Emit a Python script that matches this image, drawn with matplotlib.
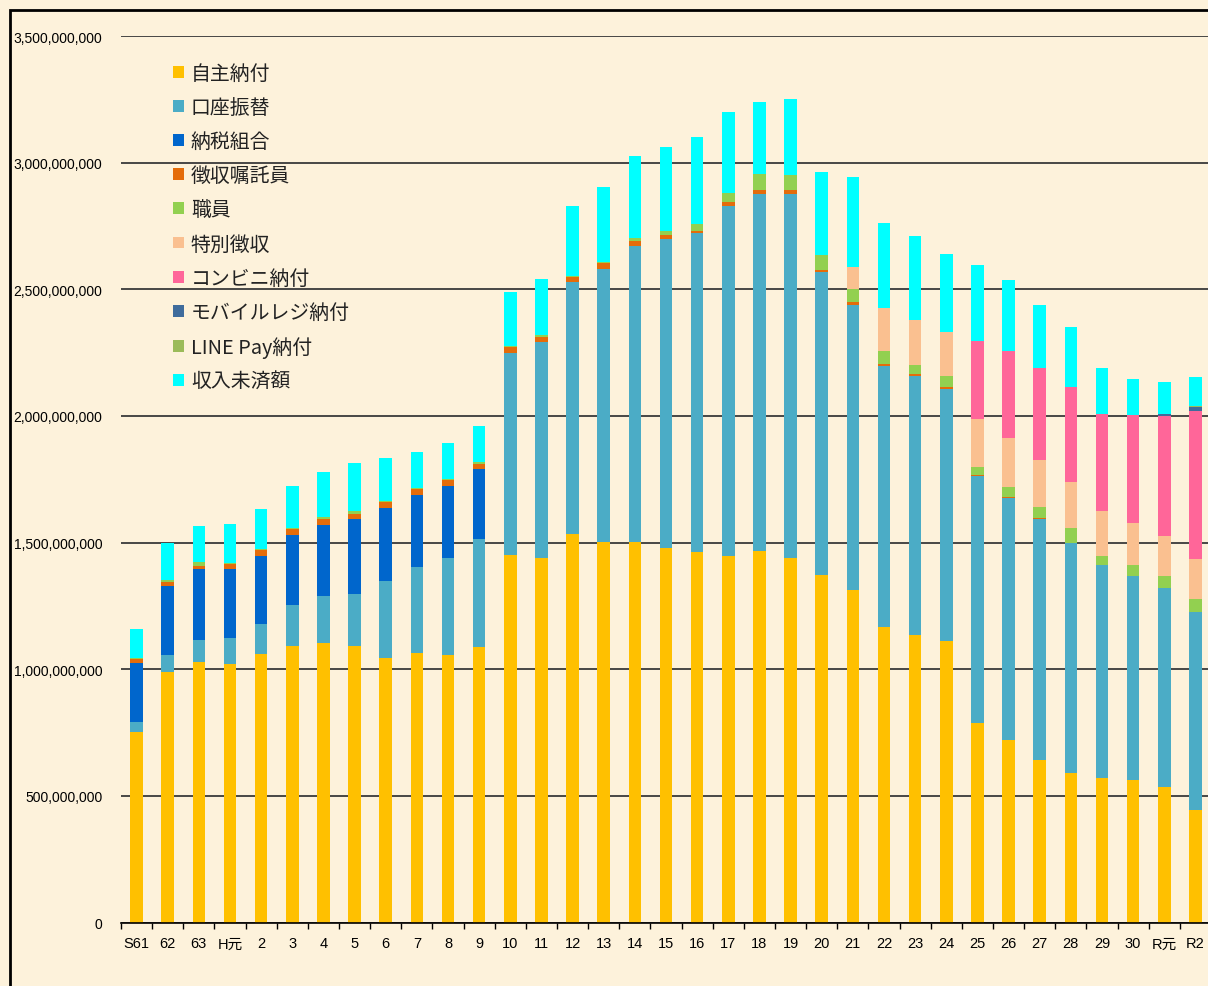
import numpy as np
import matplotlib
matplotlib.use("Agg")
import matplotlib.pyplot as plt
from matplotlib.patches import Patch, Rectangle
from matplotlib.ticker import FuncFormatter, FixedLocator

plt.rcParams['font.family'] = ['Liberation Sans', 'Noto Sans CJK JP', 'DejaVu Sans']

# 年度
cats = ['S61', '62', '63', 'H元'] + [str(i) for i in range(2, 31)] + ['R元', 'R2']

# 単位: 百万円
jishu = [753, 991, 1030, 1020, 1061, 1092, 1105, 1091, 1044, 1065, 1058, 1087,
         1453, 1440, 1533, 1504, 1502, 1478, 1463, 1449, 1465, 1440,
         1374, 1313, 1166, 1137, 1112, 788, 720, 643, 592, 571, 562, 535, 446]
koza = [37, 66, 87, 105, 119, 163, 184, 205, 305, 340, 383, 429,
        797, 852, 996, 1078, 1169, 1219, 1258, 1380, 1413, 1436,
        1194, 1127, 1033, 1020, 996, 974, 957, 950, 908, 842, 807, 785, 782]
kumiai = [236, 273, 277, 272, 269, 277, 282, 297, 289, 282, 283, 273] + [0] * 23
shokutaku = [15, 14, 15, 20, 22, 22, 24, 21, 23, 24, 24, 23,
             23, 19, 18, 22, 18, 16, 10, 14, 16, 16,
             10, 8, 8, 7, 7, 4, 5, 5, 0, 0, 0, 0, 0]
shokuin = [5, 9, 15, 4, 4, 3, 7, 9, 5, 4, 4, 7,
           4, 8, 4, 4, 13, 17, 25, 39, 61, 60,
           57, 54, 50, 39, 41, 34, 38, 43, 58, 35, 44, 49, 51]
tokucho = [0] * 23 + [88, 170, 175, 176, 189, 194, 186, 183, 175, 165, 159, 157]
conveni = [0] * 27 + [307, 342, 363, 375, 383, 424, 472, 582]
mobile = [0] * 33 + [8, 17]
linepay = [0] * 34 + [6]
minou = [113, 146, 141, 154, 158, 166, 175, 191, 170, 142, 141, 142,
         212, 223, 276, 296, 323, 332, 346, 319, 285, 300,
         328, 354, 333, 333, 306, 300, 280, 250, 237, 183, 143, 126, 111]

labels = ['自主納付', '口座振替', '納税組合', '徴収嘱託員', '職員', '特別徴収',
          'コンビニ納付', 'モバイルレジ納付', 'LINE Pay納付', '収入未済額']
series = [jishu, koza, kumiai, shokutaku, shokuin, tokucho, conveni, mobile, linepay, minou]
colors = ['#FFC000', '#4BACC6', '#0066CC', '#E46C0A', '#92D050', '#FAC090',
          '#FF6699', '#3F6C9C', '#9BBB59', '#00FFFF']

W, H = 1208, 987
bg = '#FDF2DB'
fig = plt.figure(figsize=(W / 100, H / 100), dpi=100, facecolor=bg)
ax = fig.add_axes([121 / W, (H - 923.6) / H, (1211 - 121) / W, (923.6 - 37) / H])
ax.set_facecolor(bg)

x = np.arange(len(cats))
bottom = np.zeros(len(cats))
for vals, c in zip(series, colors):
    v = np.array(vals, dtype=float)
    ax.bar(x, v, 0.4, bottom=bottom, color=c, linewidth=0, zorder=3)
    bottom += v

ax.set_xlim(-0.5, len(cats) - 0.5)
ax.set_ylim(0, 3500)
ax.set_yticks(np.arange(0, 3501, 500))
ax.yaxis.set_major_formatter(FuncFormatter(lambda v, p: f'{int(v * 1e6):,}'))
ax.grid(axis='y', color='#3A3A3A', linewidth=1.3, zorder=1)
ax.tick_params(axis='y', length=0, pad=13.5, labelsize=10)

ax.set_xticks(x)
ax.set_xticklabels(cats)
ax.tick_params(axis='x', length=0, pad=10, labelsize=10.5)
ax.xaxis.set_minor_locator(FixedLocator(np.arange(-0.5, len(cats), 1)))
ax.tick_params(axis='x', which='minor', length=4, width=1, color='black', direction='out')

for s in ['top', 'right', 'left']:
    ax.spines[s].set_visible(False)
ax.spines['bottom'].set_color('black')
ax.spines['bottom'].set_linewidth(1.2)
ax.spines['bottom'].set_zorder(4)

handles = [Patch(facecolor=c, edgecolor='none') for c in colors]
leg = fig.legend(handles, labels, loc='upper left',
                 bbox_to_anchor=(173 / W, 1 - 64 / H), frameon=False,
                 prop={'family': ['Noto Sans CJK JP'], 'size': 14.3},
                 handlelength=0.55, handleheight=0.55, handletextpad=0.35,
                 labelspacing=0.66, borderpad=0, borderaxespad=0)
for t in leg.get_texts():
    t.set_color('#222222')

# 外枠
fig.patches.append(Rectangle((9.5 / W, -0.1), 2.0, 1.1 - 10.5 / H,
                             transform=fig.transFigure, fill=False,
                             edgecolor='black', linewidth=2))

fig.savefig('out.png', dpi=100, facecolor=bg)
